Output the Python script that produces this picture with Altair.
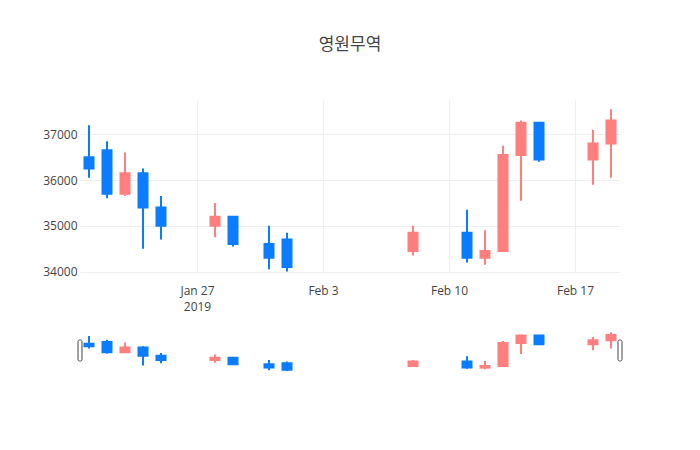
import altair as alt
import pandas as pd

# ---- data ----
dates = ["2019-01-21", "2019-01-22", "2019-01-23", "2019-01-24", "2019-01-25",
         "2019-01-28", "2019-01-29", "2019-01-31", "2019-02-01", "2019-02-08",
         "2019-02-11", "2019-02-12", "2019-02-13", "2019-02-14", "2019-02-15",
         "2019-02-18", "2019-02-19"]
opens = [36500, 36650, 35700, 36150, 35400, 35000, 35200, 34600, 34700, 34450,
         34850, 34300, 34450, 36550, 37250, 36450, 36800]
highs = [37200, 36850, 36600, 36250, 35650, 35500, 35200, 35000, 34850, 35000,
         35350, 34900, 36750, 37300, 37250, 37100, 37550]
lows = [36050, 35600, 35650, 34500, 34700, 34750, 34550, 34050, 34000, 34350,
        34200, 34150, 34450, 35550, 36400, 35900, 36050]
closes = [36250, 35700, 36150, 35400, 35000, 35200, 34600, 34300, 34100, 34850,
          34300, 34450, 36550, 37250, 36450, 36800, 37300]

y_ticks = [34000, 35000, 36000, 37000]
x_tick_dates = ["2019-01-27", "2019-02-03", "2019-02-10", "2019-02-17"]
title_text = "영원무역"

df = pd.DataFrame({"date": dates, "open": opens, "high": highs,
                   "low": lows, "close": closes})

RED = "#ff7f7f"
BLUE = "#0a7cff"
FONT = "Open Sans"
TEXT = "#444444"
GRID = "#eeeeee"

x_domain = [alt.DateTime(year=2019, month=1, date=20, hours=12, utc=True),
            alt.DateTime(year=2019, month=2, date=19, hours=12, utc=True)]
tick_vals = [alt.DateTime(year=int(d[:4]), month=int(d[5:7]), date=int(d[8:]), utc=True)
             for d in x_tick_dates]
y_domain = [33990, 37750]

xscale = alt.Scale(type="utc", domain=x_domain, nice=False, padding=0)
yscale = alt.Scale(domain=y_domain, nice=False, zero=False, padding=0)

color_cond = alt.condition("datum.open > datum.close", alt.value(BLUE), alt.value(RED))

x_axis = alt.Axis(values=tick_vals, grid=True, gridColor=GRID, domain=False, ticks=False,
                  labelPadding=13, labelFont=FONT, labelFontSize=12, labelColor=TEXT,
                  labelLineHeight=16,
                  labelExpr="utcFormat(datum.value, '%d') == '27' ? "
                            "[utcFormat(datum.value, '%b %-d'), utcFormat(datum.value, '%Y')] : "
                            "utcFormat(datum.value, '%b %-d')")
y_axis = alt.Axis(values=y_ticks, format="d", grid=True, gridColor=GRID, domain=False,
                  ticks=False, labelPadding=3, labelFont=FONT, labelFontSize=12,
                  labelColor=TEXT)


def candle_layers(with_axes):
    base = alt.Chart(df)
    xenc = alt.X("date:T", scale=xscale, axis=x_axis if with_axes else None, title=None)
    wick = base.mark_rule(strokeWidth=2).encode(
        x=xenc,
        y=alt.Y("low:Q", scale=yscale, axis=y_axis if with_axes else None, title=None),
        y2="high:Q",
        color=color_cond,
    )
    body = base.mark_bar(size=9, strokeWidth=2).encode(
        x=xenc,
        y=alt.Y("open:Q", scale=yscale, title=None),
        y2="close:Q",
        fill=color_cond,
        stroke=color_cond,
    )
    return [wick, body]


main = alt.layer(*candle_layers(True)).properties(width=540, height=172)

handles_df = pd.DataFrame({"date": ["2019-01-20T12:00:00Z", "2019-02-19T12:00:00Z"]})
handles = alt.Chart(handles_df).mark_bar(
    size=4, fill="white", stroke="#444444", strokeWidth=1, cornerRadius=1.5
).encode(
    x=alt.X("date:T", scale=xscale, axis=None),
    y=alt.value(10),
    y2=alt.value(31),
)

slider = alt.layer(*candle_layers(False), handles).properties(width=540, height=41)

chart = alt.vconcat(main, slider, spacing=58, bounds="flush").properties(
    title=alt.TitleParams(title_text, fontSize=17, fontWeight="normal",
                          font="Open Sans, Noto Sans CJK KR", color=TEXT,
                          anchor="middle", frame="group", offset=46),
    padding={"left": 42, "top": 36, "right": 5, "bottom": 5},
    background="white",
).configure_view(stroke=None)

chart.save("out.html", embed_options={"renderer": "svg", "actions": False})
